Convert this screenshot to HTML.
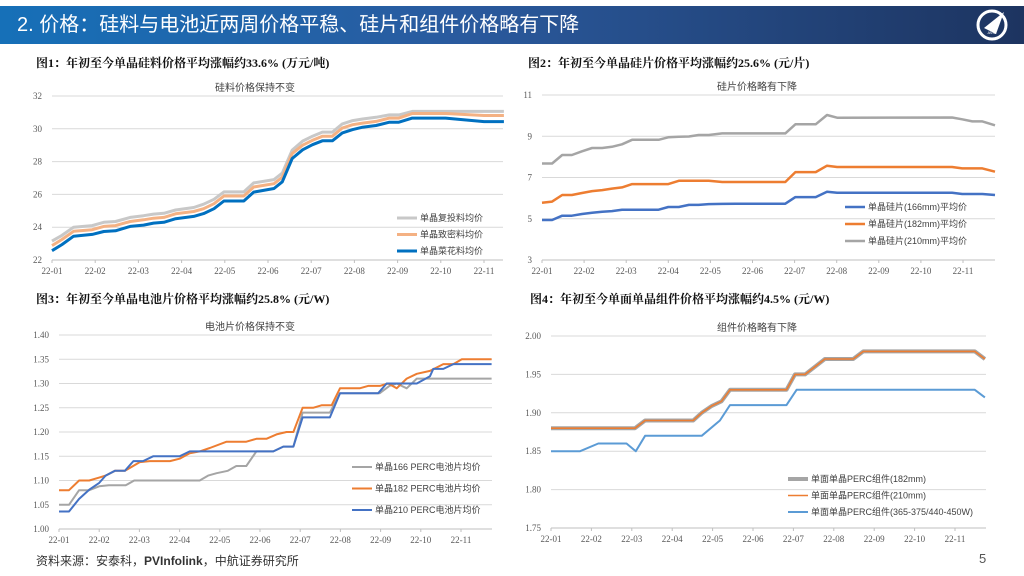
<!DOCTYPE html>
<html><head><meta charset="utf-8">
<style>
html,body{margin:0;padding:0;background:#fff;}
body{width:1024px;height:576px;position:relative;overflow:hidden;font-family:"Liberation Sans","Noto Sans CJK SC",sans-serif;}
.banner{position:absolute;left:0;top:6px;width:1024px;height:38px;background:linear-gradient(90deg,#1670b8 0%,#2a5a9e 45%,#1d3460 100%);}
.btitle{position:absolute;left:17px;top:6px;line-height:38px;color:#fff;font-size:20px;font-family:"Liberation Sans","Noto Sans CJK SC",sans-serif;}
.sub{position:absolute;font-size:12px;font-weight:bold;color:#111;font-family:"Liberation Serif","Noto Serif CJK SC",serif;}
svg{position:absolute;left:0;top:0;}
.src{position:absolute;left:36px;top:552px;font-size:12px;color:#333;}
.pg{position:absolute;left:979px;top:551px;font-size:13px;color:#555;}
</style></head>
<body>
<div class="banner"></div>
<div class="btitle">2. 价格：硅料与电池近两周价格平稳、硅片和组件价格略有下降</div>
<svg width="1024" height="576">
  <g>
    <circle cx="992" cy="25" r="14" fill="none" stroke="#fff" stroke-width="3"/>
    <path d="M984 28 L1004 12 L996 34 Z" fill="#fff"/>
    <text x="992" y="34" font-size="4" fill="#fff" text-anchor="middle">AVIC</text>
  </g>
  <g id="c1"></g><g id="c2"></g><g id="c3"></g><g id="c4"></g>
</svg>
<div class="sub" style="left:36px;top:54px">图1：年初至今单晶硅料价格平均涨幅约33.6% (万元/吨)</div>
<div class="sub" style="left:528px;top:54px">图2：年初至今单晶硅片价格平均涨幅约25.6% (元/片)</div>
<div class="sub" style="left:36px;top:290px">图3：年初至今单晶电池片价格平均涨幅约25.8% (元/W)</div>
<div class="sub" style="left:530px;top:290px">图4：年初至今单面单晶组件价格平均涨幅约4.5% (元/W)</div>
<div class="src">资料来源：安泰科，<b>PVInfolink</b>，中航证券研究所</div>
<div class="pg">5</div>
<script>
const months=["22-01","22-02","22-03","22-04","22-05","22-06","22-07","22-08","22-09","22-10","22-11"];
// Chart 1: polysilicon (month offset, value)
const c1x=[0,0.23,0.5,0.93,1.2,1.47,1.81,2.12,2.35,2.59,2.86,3.28,3.51,3.75,3.98,4.44,4.67,5.14,5.33,5.56,5.8,6.03,6.26,6.49,6.72,6.96,7.19,7.5,7.81,8.03,8.34,8.65,8.88,9.11,10.0,10.24,10.46];
const c1a=[23.15,23.5,24.0,24.1,24.3,24.35,24.6,24.7,24.8,24.85,25.05,25.2,25.4,25.7,26.15,26.15,26.7,26.9,27.3,28.7,29.25,29.55,29.8,29.8,30.3,30.5,30.6,30.7,30.85,30.85,31.06,31.06,31.06,31.06,31.06,31.06,31.06];
const c1b=[22.88,23.25,23.75,23.85,24.05,24.1,24.35,24.45,24.55,24.6,24.82,24.96,25.13,25.43,25.9,25.9,26.45,26.65,27.05,28.49,29.0,29.3,29.55,29.55,30.05,30.25,30.35,30.45,30.65,30.65,30.93,30.93,30.93,30.93,30.81,30.81,30.81];
const c1c=[22.57,22.94,23.45,23.56,23.74,23.78,24.05,24.13,24.25,24.3,24.52,24.66,24.83,25.13,25.6,25.6,26.14,26.36,26.77,28.19,28.72,29.03,29.27,29.27,29.75,29.95,30.1,30.2,30.4,30.4,30.65,30.65,30.65,30.65,30.44,30.44,30.44];
const c1names=["单晶复投料均价","单晶致密料均价","单晶菜花料均价"];
const c1ticks=[22,24,26,28,30,32];
// Chart 2: wafers
const c2x=[0,0.24,0.48,0.71,0.95,1.19,1.43,1.66,1.9,2.14,2.38,2.77,3.0,3.25,3.49,3.72,3.96,4.28,4.6,5.78,6.02,6.5,6.77,7.01,9.74,9.98,10.22,10.46,10.76];
const c2a=[4.94,4.94,5.15,5.15,5.23,5.29,5.34,5.37,5.44,5.44,5.44,5.44,5.57,5.57,5.67,5.67,5.71,5.72,5.73,5.73,6.05,6.05,6.31,6.26,6.26,6.2,6.2,6.2,6.15];
const c2b=[5.78,5.83,6.15,6.15,6.25,6.34,6.39,6.46,6.52,6.68,6.68,6.68,6.68,6.84,6.84,6.84,6.84,6.78,6.78,6.78,7.26,7.26,7.57,7.51,7.51,7.44,7.44,7.44,7.28];
const c2c=[7.68,7.68,8.09,8.09,8.27,8.43,8.43,8.49,8.61,8.83,8.83,8.83,8.95,8.98,8.99,9.06,9.06,9.14,9.14,9.14,9.58,9.58,10.03,9.9,9.91,9.82,9.72,9.72,9.53];
const c2names=["单晶硅片(166mm)平均价","单晶硅片(182mm)平均价","单晶硅片(210mm)平均价"];
const c2ticks=[3,5,7,9,11];
// Chart 3: cells
const c3gx=[0,0.25,0.5,0.75,1.0,1.24,1.66,1.87,3.5,3.71,3.92,4.2,4.41,4.66,4.91,5.33,5.58,5.83,6.06,6.74,6.99,7.98,8.22,8.4,8.65,8.9,10.76];
const c3g=[1.05,1.05,1.08,1.08,1.088,1.09,1.09,1.10,1.10,1.11,1.115,1.12,1.13,1.13,1.16,1.16,1.17,1.17,1.24,1.24,1.28,1.28,1.295,1.30,1.29,1.31,1.31];
const c3ox=[0,0.25,0.5,0.75,1.0,1.16,1.39,1.64,2.01,2.26,2.76,3.0,3.25,3.5,3.75,4.17,4.66,4.91,5.16,5.41,5.66,5.83,6.06,6.32,6.53,6.78,6.99,7.48,7.69,7.98,8.19,8.4,8.65,8.9,9.23,9.56,9.81,10.02,10.76];
const c3o=[1.08,1.08,1.10,1.10,1.106,1.11,1.12,1.12,1.138,1.14,1.14,1.145,1.156,1.16,1.167,1.18,1.18,1.186,1.186,1.195,1.20,1.20,1.25,1.25,1.255,1.255,1.29,1.29,1.295,1.295,1.30,1.29,1.31,1.32,1.326,1.34,1.34,1.35,1.35];
const c3bx=[0,0.25,0.5,0.75,1.0,1.16,1.39,1.64,1.85,2.09,2.34,3.0,3.25,5.33,5.58,5.83,6.06,6.74,6.99,7.94,8.15,8.9,9.23,9.31,9.56,9.81,10.76];
const c3b=[1.036,1.036,1.062,1.081,1.095,1.11,1.12,1.12,1.14,1.14,1.15,1.15,1.16,1.16,1.17,1.17,1.23,1.23,1.28,1.28,1.30,1.30,1.315,1.33,1.33,1.34,1.34];
const c3names=["单晶166 PERC电池片均价","单晶182 PERC电池片均价","单晶210 PERC电池片均价"];
const c3ticks=[1.00,1.05,1.10,1.15,1.20,1.25,1.30,1.35,1.40];
// Chart 4: modules
const c4ax=[0,2.08,2.33,3.52,3.73,3.98,4.22,4.43,5.83,6.04,6.29,6.78,7.48,7.73,10.49,10.74];
const c4a=[1.88,1.88,1.89,1.89,1.90,1.909,1.915,1.93,1.93,1.95,1.95,1.97,1.97,1.98,1.98,1.97];
const c4bx=[0,0.72,1.17,1.87,2.1,2.33,3.73,4.18,4.43,5.83,6.08,10.49,10.74];
const c4b=[1.85,1.85,1.86,1.86,1.85,1.87,1.87,1.89,1.91,1.91,1.93,1.93,1.92];
const c4names=["单面单晶PERC组件(182mm)","单面单晶PERC组件(210mm)","单面单晶PERC组件(365-375/440-450W)"];
const c4ticks=[1.75,1.80,1.85,1.90,1.95,2.00];

const NS="http://www.w3.org/2000/svg";
function mk(parent,tag,attrs){const e=document.createElementNS(NS,tag);for(const k in attrs)e.setAttribute(k,attrs[k]);parent.appendChild(e);return e;}
function chart(id,cfg){
  const g=document.getElementById(id);
  const xs=m=>cfg.x0+m*cfg.mw;
  const ys=v=>cfg.y1-(v-cfg.vmin)/(cfg.vmax-cfg.vmin)*(cfg.y1-cfg.y0);
  cfg.ticks.forEach(t=>{
    const l=mk(g,'line',{x1:cfg.x0,x2:cfg.x2,y1:ys(t),y2:ys(t),stroke:'#d9d9d9','stroke-width':1});
    
    
    const tx=mk(g,'text',{x:cfg.x0-10,y:ys(t)+3,'font-size':9,fill:'#595959','text-anchor':'end','font-family':'Liberation Serif,serif'});
    tx.textContent=cfg.dec?t.toFixed(cfg.dec):t;
    
    
  });
  const ax=mk(g,'line',{x1:cfg.x0,x2:cfg.x2,y1:cfg.y1,y2:cfg.y1,stroke:'#bfbfbf'});
  
  
  months.forEach((m,i)=>{
    mk(g,'line',{x1:xs(i),x2:xs(i),y1:cfg.y1,y2:cfg.y1+3,stroke:'#bfbfbf'});
    const tx=mk(g,'text',{x:xs(i),y:cfg.y1+14,'font-size':9,fill:'#595959','text-anchor':'middle','font-family':'Liberation Serif,serif'});
    tx.textContent=m;
    
    
  });
  const tt=mk(g,'text',{x:cfg.tx,y:cfg.y0-5,'font-size':10,fill:'#404040','text-anchor':'middle'});
  tt.textContent=cfg.title;
  
  
  cfg.series.forEach((s,i)=>{
    const d=s.x.map((m,j)=>(j?'L':'M')+xs(m).toFixed(1)+' '+ys(s.v[j]).toFixed(1)).join(' ');
    const p=mk(g,'path',{d:d,fill:'none',stroke:s.c,'stroke-width':s.w,'stroke-linejoin':'round'});
    
    
    const ly=cfg.ly+i*cfg.ld;
    const ll=mk(g,'line',{x1:cfg.lx,x2:cfg.lx+20,y1:ly,y2:ly,stroke:s.c,'stroke-width':s.w});
    
    
    const lt=mk(g,'text',{x:cfg.lx+23,y:ly+3,'font-size':9,fill:'#404040'});
    lt.textContent=s.n;
    
    
  });
}
chart('c1',{x0:52,mw:43.2,x2:503,y0:96,y1:260,vmin:22,vmax:32,ticks:c1ticks,title:'硅料价格保持不变',tx:255,lx:397,ly:218,ld:16.5,
  series:[{x:c1x,v:c1a,c:'#c8c8c8',w:3,n:c1names[0]},{x:c1x,v:c1b,c:'#f4b183',w:3,n:c1names[1]},{x:c1x,v:c1c,c:'#0070c0',w:3,n:c1names[2]}]});
chart('c2',{x0:542,mw:42.1,x2:995,y0:95,y1:260,vmin:3,vmax:11,ticks:c2ticks,title:'硅片价格略有下降',tx:757,lx:845,ly:207,ld:17,
  series:[{x:c2x,v:c2c,c:'#a5a5a5',w:2.5,n:c2names[2]},{x:c2x,v:c2b,c:'#ed7d31',w:2.5,n:c2names[1]},{x:c2x,v:c2a,c:'#4472c4',w:2.5,n:c2names[0]}].map((s,i,a)=>a[2-i])});
chart('c3',{x0:59,mw:40.2,x2:492,y0:335,y1:529,vmin:1.0,vmax:1.4,dec:2,ticks:c3ticks,title:'电池片价格保持不变',tx:250,lx:352,ly:467,ld:21.5,
  series:[{x:c3gx,v:c3g,c:'#a5a5a5',w:2,n:c3names[0]},{x:c3ox,v:c3o,c:'#ed7d31',w:2,n:c3names[1]},{x:c3bx,v:c3b,c:'#4472c4',w:2,n:c3names[2]}]});
chart('c4',{x0:551,mw:40.4,x2:986,y0:336,y1:528,vmin:1.75,vmax:2.0,dec:2,ticks:c4ticks,title:'组件价格略有下降',tx:757,lx:788,ly:479,ld:16.5,
  series:[{x:c4ax,v:c4a,c:'#a5a5a5',w:4,n:c4names[0]},{x:c4ax,v:c4a,c:'#ed7d31',w:1.6,n:c4names[1]},{x:c4bx,v:c4b,c:'#5b9bd5',w:2,n:c4names[2]}]});
</script>
</body></html>
